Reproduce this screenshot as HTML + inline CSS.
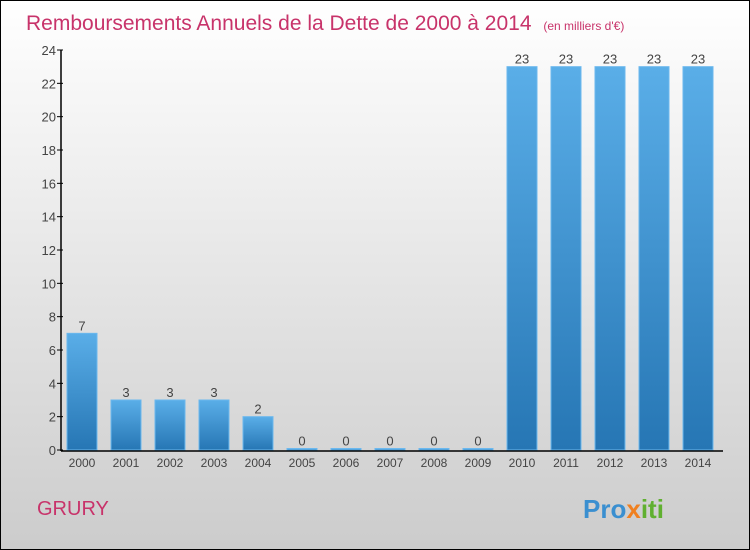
<!DOCTYPE html>
<html><head><meta charset="utf-8"><style>
body{margin:0}
#c{width:748px;height:548px;border:1px solid #000;background:linear-gradient(#fff,#ccc);position:relative;font-family:"Liberation Sans",sans-serif;overflow:hidden}
</style></head><body>
<div id="c">
<svg id="s" width="748" height="548">
<defs><linearGradient id="g" x1="0" y1="0" x2="0" y2="1"><stop offset="0" stop-color="#5aaee8"/><stop offset="1" stop-color="#2676b4"/></linearGradient></defs>
<text x="25" y="29" font-size="21" fill="#c8336a">Remboursements Annuels de la Dette de 2000 à 2014 <tspan font-size="12" dx="6">(en milliers d'€)</tspan></text>
<text x="36" y="514" font-size="20" fill="#c8336a">GRURY</text>
<text x="582" y="517" font-size="26" font-weight="bold" fill="#3a8fd0">Pro<tspan fill="#f08020">x</tspan><tspan fill="#60b030">iti</tspan></text>
<g id="plot"></g>
</svg></div>
<script>
const categories=["2000","2001","2002","2003","2004","2005","2006","2007","2008","2009","2010","2011","2012","2013","2014"];
const values=[7,3,3,3,2,0,0,0,0,0,23,23,23,23,23];
const yTicks=[0,2,4,6,8,10,12,14,16,18,20,22,24];
const NS="http://www.w3.org/2000/svg";
const p=document.getElementById('plot');
const y=v=>449-v*400/24, x=i=>81+i*44;
function el(t,a,txt){const e=document.createElementNS(NS,t);for(const k in a)e.setAttribute(k,a[k]);if(txt!==undefined)e.textContent=txt;p.appendChild(e);return e;}
yTicks.forEach(t=>{
 const l=el('line',{x1:56,x2:62,y1:y(t),y2:y(t),stroke:'#000'});
 
 
 const tx=el('text',{x:55,y:y(t)+5,'font-size':13,fill:'#444','text-anchor':'end'},t);
 
 
});
values.forEach((v,i)=>{
 const h=Math.max(v*400/24,1.5);
 const r=el('rect',{x:x(i)-15,y:449-h,width:30,height:h,fill:'url(#g)',stroke:'#6bb8ee','stroke-width':1});
 
 
 const vt=el('text',{x:x(i),y:449-h-3,'font-size':13,fill:'#444','text-anchor':'middle'},v);
 
 
 const ct=el('text',{x:x(i),y:466,'font-size':12,fill:'#444','text-anchor':'middle'},categories[i]);
 
 
});
const ya=el('line',{x1:60,x2:60,y1:49,y2:450,stroke:'#000','stroke-width':1.5});


const xa=el('line',{x1:60,x2:722,y1:450,y2:450,stroke:'#000','stroke-width':1.5});


</script>
</body></html>
